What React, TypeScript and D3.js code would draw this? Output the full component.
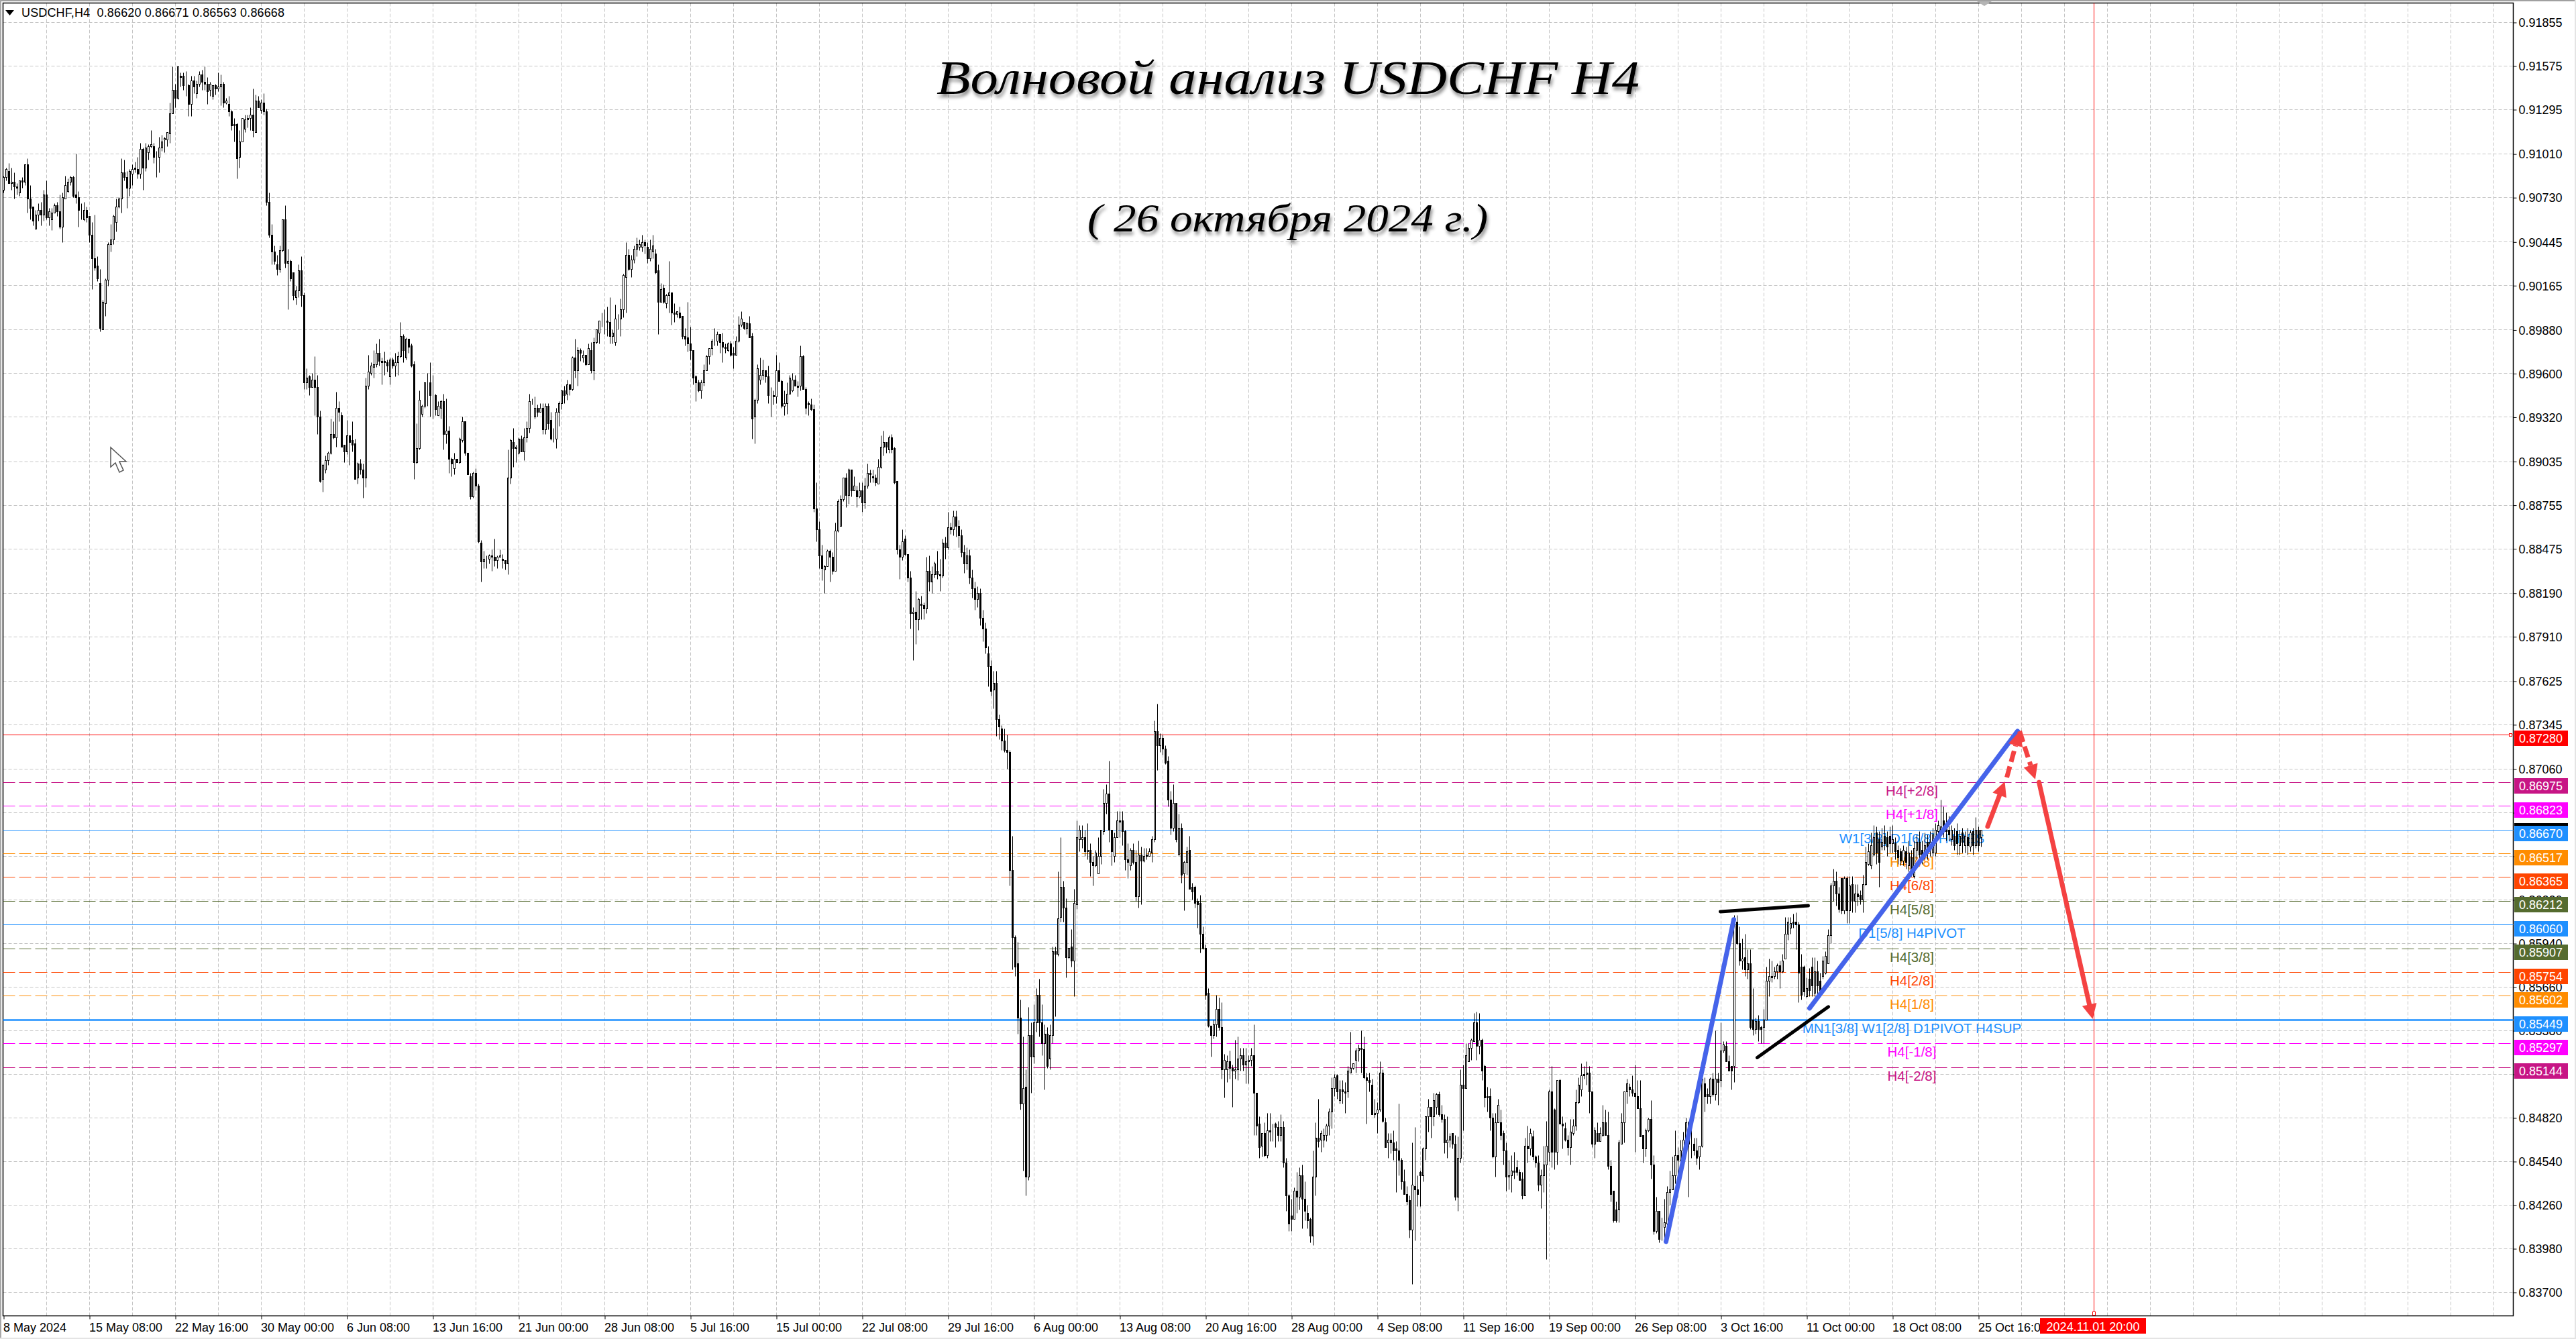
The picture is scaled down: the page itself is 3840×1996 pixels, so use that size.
import * as React from "react";
import * as d3 from "d3";

// one row per H4 bar: open, high, low, close, in pips (price x 10000)
const barRows: number[][] = [
  [9078,9087,9076,9086],[9086,9092,9084,9091],[9090,9095,9082,9082],[9082,9092,9078,9083],[9083,9089,9072,9080],[9080,9082,9075,9079],[9076,9084,9074,9084],[9084,9086,9079,9083],
  [9083,9094,9081,9094],[9094,9098,9063,9072],[9072,9081,9059,9066],[9067,9067,9055,9058],[9053,9065,9053,9062],[9062,9069,9058,9065],[9065,9070,9055,9062],[9062,9078,9058,9075],
  [9075,9084,9059,9060],[9060,9066,9055,9064],[9059,9066,9052,9063],[9063,9069,9063,9068],[9068,9070,9061,9064],[9064,9075,9053,9054],[9054,9076,9044,9073],[9072,9087,9072,9081],
  [9077,9085,9076,9083],[9083,9087,9081,9086],[9086,9087,9073,9074],[9075,9101,9069,9073],[9073,9077,9054,9065],[9064,9069,9059,9064],[9059,9070,9058,9065],[9065,9067,9057,9060],
  [9061,9061,9044,9049],[9049,9057,9014,9034],[9034,9062,9026,9028],[9029,9035,9019,9021],[9018,9027,8987,8989],[8988,9007,8988,9006],[9005,9021,8997,9020],[9020,9044,9016,9043],
  [9043,9056,9038,9046],[9046,9062,9043,9061],[9057,9072,9051,9067],[9067,9073,9066,9072],[9072,9098,9063,9089],[9089,9097,9084,9086],[9086,9090,9066,9079],[9079,9091,9074,9090],
  [9088,9094,9081,9091],[9092,9096,9089,9091],[9091,9099,9085,9088],[9088,9108,9085,9104],[9104,9105,9078,9092],[9092,9108,9090,9105],[9102,9107,9097,9106],[9106,9116,9105,9107],
  [9106,9108,9095,9099],[9099,9103,9086,9099],[9099,9112,9089,9105],[9105,9113,9103,9109],[9110,9112,9102,9111],[9110,9115,9106,9115],[9114,9134,9108,9127],[9127,9157,9127,9142],
  [9142,9146,9131,9137],[9137,9157,9136,9157],[9151,9153,9144,9150],[9151,9153,9142,9145],[9145,9154,9138,9145],[9145,9146,9125,9133],[9133,9151,9125,9148],[9148,9151,9140,9144],
  [9140,9148,9137,9146],[9146,9154,9144,9152],[9152,9155,9142,9147],[9147,9157,9142,9146],[9146,9150,9133,9141],[9142,9147,9138,9146],[9138,9145,9136,9145],[9145,9146,9139,9143],
  [9143,9153,9141,9144],[9144,9152,9132,9146],[9146,9147,9131,9134],[9134,9137,9133,9135],[9133,9138,9125,9128],[9128,9129,9116,9119],[9120,9124,9109,9119],[9120,9121,9085,9098],
  [9099,9116,9092,9109],[9109,9124,9109,9124],[9117,9126,9115,9123],[9123,9126,9118,9124],[9124,9131,9116,9126],[9126,9143,9112,9116],[9115,9139,9115,9135],[9135,9138,9131,9131],
  [9129,9136,9127,9134],[9134,9140,9126,9128],[9128,9130,9068,9070],[9070,9076,9047,9049],[9049,9056,9030,9038],[9038,9042,9030,9032],[9030,9036,9023,9027],[9027,9042,9025,9039],
  [9039,9059,9038,9059],[9059,9068,9028,9031],[9031,9040,9001,9032],[9032,9033,9019,9021],[9025,9025,9007,9010],[9009,9016,9004,9013],[9013,9030,9009,9026],[9026,9035,9003,9010],
  [9010,9012,8950,8954],[8954,8963,8950,8957],[8958,8959,8946,8951],[8951,8960,8951,8956],[8956,8971,8933,8951],[8951,8959,8921,8932],[8932,8936,8890,8891],[8892,8902,8884,8901],
  [8898,8907,8896,8904],[8904,8910,8901,8909],[8909,8931,8908,8921],[8921,8929,8918,8919],[8919,8948,8913,8938],[8938,8942,8929,8935],[8933,8935,8913,8913],[8914,8914,8903,8910],
  [8910,8930,8908,8920],[8920,8920,8901,8916],[8917,8929,8910,8914],[8915,8918,8892,8892],[8893,8903,8889,8902],[8902,8905,8895,8898],[8898,8902,8880,8893],[8893,8957,8887,8952],
  [8952,8972,8950,8961],[8960,8967,8959,8965],[8964,8975,8957,8966],[8966,8979,8964,8973],[8973,8982,8965,8968],[8968,8970,8953,8967],[8968,8974,8959,8967],[8967,8969,8961,8965],
  [8958,8970,8953,8969],[8969,8970,8963,8965],[8965,8973,8958,8967],[8967,8974,8959,8971],[8971,8993,8970,8984],[8984,8985,8967,8975],[8970,8983,8969,8982],[8982,8982,8973,8977],
  [8978,8979,8964,8965],[8966,8968,8892,8903],[8903,8928,8902,8912],[8912,8949,8911,8943],[8934,8940,8932,8939],[8939,8954,8938,8954],[8954,8960,8939,8954],[8954,8967,8932,8946],
  [8946,8959,8931,8946],[8946,8947,8933,8937],[8933,8942,8933,8939],[8938,8943,8931,8942],[8942,8947,8911,8921],[8921,8944,8915,8923],[8923,8926,8896,8905],[8905,8906,8894,8902],
  [8899,8909,8895,8905],[8905,8905,8903,8903],[8903,8919,8902,8918],[8917,8932,8916,8929],[8929,8929,8907,8909],[8909,8909,8895,8895],[8894,8896,8879,8881],[8881,8897,8880,8896],
  [8896,8899,8885,8888],[8888,8889,8851,8852],[8851,8853,8826,8839],[8839,8846,8835,8841],[8841,8843,8835,8841],[8841,8844,8838,8843],[8843,8847,8833,8842],[8842,8854,8836,8840],
  [8840,8843,8835,8842],[8842,8847,8842,8843],[8841,8844,8835,8840],[8840,8840,8834,8838],[8838,8911,8831,8893],[8893,8918,8889,8917],[8916,8925,8900,8912],[8912,8914,8903,8913],
  [8909,8919,8908,8918],[8918,8920,8910,8910],[8910,8925,8904,8919],[8919,8929,8916,8925],[8925,8947,8922,8942],[8942,8944,8940,8942],[8932,8945,8931,8938],[8938,8940,8932,8935],
  [8935,8941,8935,8938],[8938,8941,8921,8924],[8924,8941,8921,8939],[8939,8941,8924,8928],[8930,8935,8917,8918],[8918,8925,8916,8918],[8918,8938,8912,8935],[8935,8942,8926,8941],
  [8941,8949,8937,8949],[8949,8952,8941,8946],[8947,8956,8943,8953],[8953,8953,8946,8950],[8950,8971,8949,8970],[8970,8982,8957,8962],[8962,8977,8952,8975],[8975,8976,8968,8973],
  [8970,8975,8967,8972],[8972,8972,8965,8966],[8966,8979,8966,8976],[8975,8980,8960,8962],[8962,8983,8956,8980],[8980,8988,8979,8988],[8986,8994,8979,8994],[8994,8999,8990,8994],
  [8994,9001,8985,8994],[8994,9003,8984,8993],[8993,9009,8979,8984],[8984,8988,8979,8986],[8980,9004,8978,8995],[8995,8998,8988,8995],[8995,9008,8984,9001],[9001,9024,8996,9023],
  [9022,9044,8999,9036],[9036,9040,9026,9027],[9027,9036,9022,9033],[9033,9042,9031,9040],[9040,9047,9035,9043],[9041,9046,9039,9043],[9041,9049,9038,9044],[9044,9046,9037,9042],
  [9041,9044,9031,9034],[9034,9046,9032,9040],[9038,9049,9034,9042],[9037,9040,9024,9025],[9026,9030,8985,9006],[9006,9018,9006,9014],[9015,9017,9005,9006],[9005,9011,9002,9010],
  [9010,9032,8999,9012],[9012,9012,8991,8999],[8999,9005,8993,8998],[8998,9000,8996,9000],[8999,9003,8995,8996],[8997,8997,8982,8984],[8984,8989,8978,8982],[8983,9006,8974,8979],
  [8979,8990,8969,8975],[8975,8975,8953,8957],[8958,8959,8942,8954],[8954,8956,8948,8949],[8949,8956,8944,8954],[8954,8966,8952,8962],[8962,8972,8962,8971],[8971,8976,8966,8976],
  [8976,8982,8972,8981],[8981,8989,8978,8981],[8981,8987,8978,8985],[8985,8985,8973,8980],[8980,8986,8967,8977],[8977,8979,8973,8976],[8975,8980,8974,8979],[8979,8981,8971,8972],
  [8973,8977,8963,8972],[8972,8984,8972,8981],[8981,8997,8980,8991],[8991,9000,8990,8995],[8993,8993,8988,8989],[8989,8993,8985,8992],[8992,8997,8983,8983],[8984,8986,8918,8931],
  [8932,8944,8915,8943],[8943,8966,8941,8963],[8956,8970,8953,8959],[8959,8969,8956,8962],[8962,8962,8954,8958],[8958,8965,8941,8946],[8946,8951,8932,8946],[8946,8949,8940,8945],
  [8945,8972,8941,8962],[8962,8967,8955,8955],[8955,8956,8938,8939],[8939,8949,8933,8941],[8941,8954,8934,8947],[8947,8959,8947,8957],[8949,8960,8948,8956],[8956,8959,8952,8952],
  [8952,8955,8945,8951],[8952,8978,8949,8971],[8971,8972,8950,8950],[8950,8951,8934,8938],[8941,8942,8933,8940],[8940,8944,8936,8937],[8937,8940,8871,8873],[8873,8890,8852,8860],
  [8860,8865,8835,8843],[8843,8850,8827,8835],[8834,8837,8819,8836],[8836,8847,8836,8846],[8846,8847,8826,8842],[8842,8845,8831,8833],[8833,8864,8833,8859],[8859,8879,8858,8878],
  [8862,8882,8862,8879],[8879,8893,8878,8893],[8893,8896,8874,8882],[8882,8899,8876,8898],[8898,8898,8881,8885],[8885,8894,8885,8888],[8885,8888,8874,8881],[8881,8890,8880,8885],
  [8885,8890,8871,8877],[8877,8893,8873,8888],[8888,8902,8886,8896],[8896,8898,8890,8895],[8894,8898,8890,8893],[8893,8895,8888,8890],[8889,8905,8889,8900],[8900,8920,8899,8913],
  [8913,8923,8907,8916],[8916,8916,8909,8913],[8911,8920,8909,8919],[8919,8921,8909,8911],[8912,8913,8889,8890],[8891,8891,8844,8847],[8847,8850,8828,8842],[8842,8860,8840,8852],
  [8854,8856,8843,8844],[8844,8844,8826,8829],[8829,8833,8796,8806],[8806,8810,8776,8807],[8807,8820,8786,8802],[8802,8816,8795,8815],[8812,8817,8802,8811],[8811,8813,8802,8809],
  [8809,8842,8806,8833],[8833,8843,8820,8826],[8826,8836,8819,8831],[8831,8839,8829,8838],[8833,8846,8828,8831],[8831,8841,8820,8830],[8830,8854,8829,8851],[8851,8855,8841,8848],
  [8848,8871,8847,8861],[8861,8864,8857,8860],[8860,8872,8856,8868],[8868,8872,8855,8862],[8862,8866,8848,8856],[8856,8860,8842,8845],[8845,8850,8832,8838],[8838,8848,8834,8843],
  [8843,8847,8825,8829],[8829,8834,8816,8822],[8822,8826,8808,8815],[8815,8823,8810,8819],[8819,8822,8798,8803],[8803,8808,8788,8796],[8796,8800,8780,8784],[8780,8785,8759,8772],
  [8772,8776,8753,8756],[8757,8769,8745,8761],[8761,8769,8727,8738],[8738,8741,8725,8733],[8732,8734,8718,8724],[8724,8732,8717,8718],[8718,8728,8706,8717],[8717,8718,8631,8641],
  [8641,8663,8577,8598],[8598,8599,8573,8579],[8581,8595,8536,8546],[8546,8558,8487,8491],[8491,8534,8448,8501],[8502,8513,8432,8444],[8444,8553,8442,8535],[8535,8543,8498,8521],
  [8521,8555,8517,8543],[8543,8565,8537,8561],[8561,8571,8534,8543],[8543,8555,8522,8530],[8530,8542,8500,8536],[8536,8540,8514,8515],[8520,8542,8513,8535],[8535,8592,8530,8589],
  [8589,8592,8547,8587],[8587,8640,8586,8610],[8611,8662,8608,8630],[8630,8634,8608,8617],[8617,8623,8572,8585],[8585,8591,8584,8591],[8592,8603,8579,8583],[8583,8629,8560,8620],
  [8619,8673,8616,8662],[8661,8670,8653,8667],[8661,8670,8655,8662],[8662,8667,8650,8653],[8653,8671,8648,8654],[8654,8658,8637,8646],[8646,8650,8631,8644],[8644,8654,8643,8652],
  [8639,8662,8639,8650],[8650,8667,8645,8667],[8666,8693,8664,8684],[8684,8696,8677,8690],[8690,8711,8659,8667],[8667,8667,8644,8653],[8650,8665,8646,8662],[8662,8679,8662,8673],
  [8673,8679,8662,8672],[8673,8679,8657,8666],[8666,8667,8641,8648],[8648,8658,8636,8646],[8644,8655,8641,8654],[8654,8658,8645,8646],[8646,8654,8621,8624],[8624,8660,8617,8651],
  [8651,8656,8619,8647],[8647,8655,8646,8650],[8651,8655,8648,8650],[8650,8655,8650,8653],[8652,8663,8646,8661],[8661,8737,8659,8730],[8730,8748,8705,8721],[8721,8729,8717,8726],
  [8726,8728,8715,8719],[8719,8721,8709,8710],[8711,8714,8682,8686],[8686,8692,8664,8668],[8668,8696,8666,8684],[8684,8684,8659,8661],[8651,8677,8651,8668],[8668,8671,8633,8638],
  [8639,8647,8615,8646],[8646,8656,8638,8653],[8654,8663,8629,8629],[8630,8633,8622,8627],[8630,8631,8617,8620],[8621,8623,8604,8619],[8620,8625,8588,8600],[8600,8605,8590,8591],
  [8591,8593,8558,8561],[8562,8565,8540,8541],[8541,8541,8521,8535],[8535,8545,8533,8542],[8542,8561,8534,8552],[8552,8559,8538,8540],[8540,8556,8507,8513],[8513,8523,8495,8519],
  [8513,8522,8505,8518],[8518,8525,8507,8514],[8514,8516,8489,8512],[8512,8532,8507,8513],[8513,8534,8506,8520],[8520,8527,8512,8522],[8522,8527,8512,8516],[8516,8527,8504,8518],
  [8518,8522,8504,8519],[8519,8527,8515,8522],[8522,8542,8471,8498],[8498,8498,8471,8477],[8478,8483,8456,8463],[8464,8472,8457,8472],[8472,8479,8457,8458],[8458,8485,8456,8474],
  [8474,8485,8467,8473],[8473,8478,8467,8473],[8478,8479,8463,8476],[8476,8480,8467,8471],[8471,8484,8467,8476],[8476,8480,8450,8453],[8453,8456,8422,8432],[8432,8433,8409,8414],
  [8419,8430,8409,8417],[8417,8437,8417,8435],[8435,8447,8421,8431],[8431,8450,8423,8445],[8445,8452,8411,8430],[8430,8441,8416,8422],[8421,8426,8411,8416],[8417,8418,8402,8406],
  [8406,8461,8400,8444],[8444,8479,8432,8469],[8469,8494,8463,8467],[8468,8474,8460,8472],[8468,8475,8463,8471],[8471,8478,8467,8477],[8477,8488,8471,8486],[8486,8508,8475,8501],
  [8501,8510,8496,8508],[8509,8510,8494,8499],[8493,8506,8491,8500],[8500,8506,8491,8499],[8499,8505,8485,8498],[8499,8515,8495,8512],[8511,8537,8511,8514],[8514,8517,8513,8517],
  [8519,8527,8511,8525],[8525,8529,8518,8527],[8527,8538,8511,8526],[8526,8534,8507,8508],[8508,8511,8478,8506],[8506,8511,8499,8505],[8503,8507,8484,8484],[8484,8494,8482,8485],
  [8485,8492,8472,8487],[8487,8518,8486,8511],[8511,8513,8479,8480],[8479,8482,8463,8463],[8466,8472,8456,8468],[8468,8472,8459,8466],[8466,8474,8455,8461],[8462,8467,8434,8461],
  [8461,8491,8445,8455],[8455,8456,8436,8441],[8441,8449,8433,8433],[8433,8438,8426,8428],[8429,8432,8405,8410],[8410,8466,8375,8439],[8438,8476,8403,8436],[8436,8445,8425,8433],
  [8447,8448,8425,8445],[8445,8463,8441,8462],[8462,8483,8455,8483],[8483,8494,8473,8489],[8489,8489,8469,8483],[8483,8498,8477,8493],[8489,8498,8484,8497],[8497,8499,8483,8484],
  [8484,8490,8479,8481],[8481,8484,8459,8466],[8466,8483,8456,8468],[8468,8472,8463,8470],[8472,8472,8462,8465],[8465,8471,8429,8431],[8431,8470,8422,8456],[8456,8513,8453,8503],
  [8503,8516,8474,8501],[8501,8530,8501,8522],[8518,8530,8518,8527],[8527,8533,8519,8532],[8531,8549,8531,8543],[8543,8550,8519,8528],[8528,8549,8523,8532],[8532,8533,8506,8512],
  [8515,8516,8489,8495],[8496,8502,8486,8495],[8496,8501,8474,8482],[8482,8485,8456,8457],[8457,8485,8444,8479],[8479,8494,8479,8490],[8479,8487,8468,8471],[8472,8474,8452,8461],
  [8461,8466,8435,8444],[8444,8455,8436,8445],[8445,8458,8434,8448],[8448,8460,8443,8447],[8450,8455,8445,8447],[8447,8449,8442,8442],[8443,8447,8430,8432],[8432,8469,8432,8464],
  [8464,8477,8453,8462],[8462,8475,8458,8472],[8470,8474,8455,8457],[8457,8458,8450,8453],[8453,8458,8435,8439],[8439,8449,8424,8445],[8445,8464,8434,8452],[8452,8480,8391,8464],
  [8460,8500,8454,8499],[8499,8515,8450,8460],[8487,8488,8449,8460],[8460,8506,8452,8506],[8506,8507,8478,8478],[8478,8483,8462,8477],[8475,8479,8467,8468],[8468,8471,8458,8463],
  [8463,8481,8452,8473],[8472,8481,8471,8477],[8477,8500,8474,8492],[8492,8508,8491,8503],[8500,8517,8496,8509],[8510,8515,8507,8509],[8510,8518,8503,8511],[8511,8515,8485,8499],
  [8499,8499,8463,8465],[8465,8476,8456,8474],[8472,8479,8467,8467],[8467,8476,8467,8472],[8471,8490,8470,8479],[8479,8487,8471,8471],[8471,8486,8449,8451],[8451,8455,8428,8433],
  [8435,8435,8415,8416],[8423,8428,8415,8416],[8423,8468,8415,8466],[8465,8485,8465,8479],[8479,8499,8466,8499],[8499,8507,8491,8504],[8502,8504,8496,8500],[8500,8509,8496,8498],
  [8498,8516,8460,8496],[8496,8506,8488,8488],[8488,8506,8470,8470],[8471,8471,8453,8462],[8462,8475,8457,8474],[8474,8482,8473,8481],[8481,8493,8443,8452],[8452,8458,8407,8409],
  [8409,8431,8408,8422],[8422,8422,8402,8404],[8412,8418,8403,8412],[8412,8430,8404,8415],[8414,8438,8413,8434],[8434,8448,8426,8436],[8436,8457,8436,8445],[8445,8474,8440,8458],
  [8458,8463,8438,8455],[8455,8468,8451,8461],[8461,8473,8459,8468],[8468,8482,8468,8479],[8479,8480,8431,8465],[8465,8483,8456,8465],[8465,8469,8458,8461],[8461,8469,8452,8456],
  [8457,8464,8449,8464],[8464,8507,8463,8507],[8504,8508,8486,8496],[8497,8501,8491,8496],[8496,8508,8491,8507],[8507,8511,8496,8497],[8497,8538,8493,8507],[8507,8511,8490,8505],
  [8506,8543,8502,8525],[8525,8531,8524,8529],[8528,8531,8518,8518],[8518,8522,8512,8512],[8515,8515,8500,8512],[8515,8612,8505,8608],[8608,8612,8593,8594],[8594,8605,8580,8583],
  [8583,8597,8577,8584],[8585,8600,8573,8577],[8577,8590,8571,8581],[8581,8590,8539,8540],[8545,8565,8535,8539],[8539,8546,8536,8544],[8544,8548,8531,8539],[8540,8541,8530,8539],
  [8540,8552,8530,8545],[8545,8579,8545,8570],[8570,8584,8560,8573],[8573,8583,8569,8572],[8573,8579,8571,8576],[8576,8581,8571,8580],[8580,8583,8565,8576],[8576,8587,8575,8583],
  [8584,8611,8584,8600],[8600,8611,8596,8608],[8604,8611,8600,8607],[8608,8613,8604,8607],[8608,8614,8590,8606],[8606,8608,8556,8575],[8579,8587,8558,8561],[8579,8580,8560,8563],
  [8560,8572,8559,8565],[8571,8578,8560,8564],[8579,8585,8560,8567],[8562,8585,8560,8576],[8576,8583,8561,8567],[8570,8575,8560,8563],[8573,8586,8571,8583],[8575,8589,8574,8586],
  [8581,8603,8581,8599],[8599,8633,8594,8631],[8631,8642,8621,8634],[8634,8640,8618,8626],[8626,8630,8614,8616],[8636,8636,8613,8615],[8615,8637,8613,8636],[8636,8637,8607,8615],
  [8615,8637,8607,8631],[8632,8637,8614,8621],[8621,8632,8614,8626],[8626,8632,8618,8624],[8625,8628,8619,8622],[8622,8638,8614,8632],[8632,8656,8631,8646],[8645,8658,8644,8653],
  [8644,8665,8642,8657],[8651,8670,8650,8662],[8665,8669,8645,8652],[8661,8666,8630,8646],[8656,8668,8654,8659],[8663,8670,8654,8658],[8662,8666,8650,8656],[8663,8669,8652,8658],
  [8658,8670,8652,8661],[8658,8662,8648,8653],[8654,8657,8645,8649],[8653,8655,8644,8647],[8647,8657,8644,8654],[8653,8656,8642,8646],[8644,8660,8640,8652],[8649,8654,8637,8638],
  [8637,8660,8636,8655],[8654,8664,8648,8659],[8659,8666,8648,8651],[8654,8660,8645,8649],[8651,8665,8648,8657],[8659,8664,8648,8652],[8654,8666,8650,8659],[8652,8668,8650,8664],
  [8652,8671,8650,8667],[8666,8673,8664,8670],[8665,8686,8663,8669],[8673,8682,8662,8666],[8670,8678,8660,8666],[8667,8676,8660,8664],[8661,8670,8657,8667],[8663,8668,8654,8657],
  [8666,8671,8651,8658],[8657,8667,8651,8663],[8665,8668,8652,8659],[8657,8666,8652,8663],[8662,8668,8651,8657],[8656,8667,8653,8665],[8666,8668,8651,8657],[8657,8675,8655,8667],
  [8667,8669,8653,8657],[8662,8667,8656,8667],
];

const priceTicks = [
  0.91855, 0.91575, 0.91295, 0.9101, 0.9073, 0.90445, 0.90165, 0.8988, 0.896, 0.8932,
  0.89035, 0.88755, 0.88475, 0.8819, 0.8791, 0.87625, 0.87345, 0.8706, 0.8678, 0.865,
  0.8622, 0.8594, 0.8566, 0.8538, 0.851, 0.8482, 0.8454, 0.8426, 0.8398, 0.837,
];

const dateLabels = [
  "8 May 2024", "15 May 08:00", "22 May 16:00", "30 May 00:00", "6 Jun 08:00", "13 Jun 16:00",
  "21 Jun 00:00", "28 Jun 08:00", "5 Jul 16:00", "15 Jul 00:00", "22 Jul 08:00", "29 Jul 16:00",
  "6 Aug 00:00", "13 Aug 08:00", "20 Aug 16:00", "28 Aug 00:00", "4 Sep 08:00", "11 Sep 16:00",
  "19 Sep 00:00", "26 Sep 08:00", "3 Oct 16:00", "11 Oct 00:00", "18 Oct 08:00", "25 Oct 16:00",
];

const levelPrices = [0.86975, 0.86823, 0.8667, 0.86517, 0.86365, 0.86212, 0.8606, 0.85907, 0.85754, 0.85602, 0.85449, 0.85297, 0.85144];
const levelNames = [
  "H4[+2/8]", "H4[+1/8]", "W1[3/8] D1[6/8] H4RES", "H4[7/8]", "H4[6/8]", "H4[5/8]", "D1[5/8] H4PIVOT",
  "H4[3/8]", "H4[2/8]", "H4[1/8]", "MN1[3/8] W1[2/8] D1PIVOT H4SUP", "H4[-1/8]", "H4[-2/8]",
];
const levelColors = ["#c71585", "#ff00ff", "#1e90ff", "#ff8c00", "#ff4500", "#556b2f", "#1e90ff", "#556b2f", "#ff4500", "#ff8c00", "#1e90ff", "#ff00ff", "#c71585"];

const forecastPrice = 0.8728;
const forecastBar = 779;
const lastPrice = 0.86668;

// wave lines and arrows as [bar, price, bar, price]
const blueLines = [
  [619.5, 0.84026, 644.75, 0.86094],
  [673, 0.85525, 750.5, 0.87304],
];
const blackLines = [
  [639.75, 0.86145, 672.5, 0.86184],
  [653.5, 0.85208, 680, 0.85534],
];
const solidArrows = [
  [739.35, 0.86692, 745.75, 0.86981],
  [758.5, 0.86976, 778.5, 0.85456],
];
const dashedArrows = [
  [746.5, 0.87007, 751.25, 0.87304],
  [751.25, 0.87304, 757.1, 0.86994],
];

const W = 3840;
const H = 1996;
const plot = { left: 4.5, top: 4.5, right: 3746.5, bottom: 1961.5 };
const sansFont = "'Liberation Sans', Arial, sans-serif";

const App: React.FunctionComponent = () => {
  const svgRef = React.useRef<SVGSVGElement>(null);

  React.useEffect(() => {
    const svg = d3.select(svgRef.current);
    svg.selectAll("*").remove();

    const x = d3.scaleLinear().domain([0, 1]).range([5.5, 9.5]);
    const y = d3.scaleLinear().domain([0.837, 0.91855]).range([1926.5, 33.5]);
    const crisp = (v: number) => Math.floor(y(v)) + 0.5;

    const defs = svg.append("defs");
    defs
      .append("filter")
      .attr("id", "title-shadow")
      .attr("x", "-5%")
      .attr("y", "-30%")
      .attr("width", "110%")
      .attr("height", "170%")
      .append("feDropShadow")
      .attr("dx", 2)
      .attr("dy", 5)
      .attr("stdDeviation", 2.5)
      .attr("flood-color", "#000")
      .attr("flood-opacity", 0.45);

    svg.append("rect").attr("width", W).attr("height", H).attr("fill", "#fff");
    // window edges
    svg.append("rect").attr("width", W).attr("height", 2).attr("fill", "#a0a0a0");
    svg.append("rect").attr("width", 2).attr("height", H).attr("fill", "#a8a8a8");
    svg.append("rect").attr("x", W - 2).attr("width", 2).attr("height", H).attr("fill", "#e4e4e4");
    svg.append("rect").attr("y", H - 2).attr("width", W).attr("height", 2).attr("fill", "#e4e4e4");

    // grid
    const grid = svg.append("g").attr("stroke", "#c4c4c4").attr("stroke-width", 1).attr("stroke-dasharray", "5 3").attr("fill", "none");
    grid
      .selectAll("line.h")
      .data(priceTicks)
      .enter()
      .append("line")
      .attr("x1", plot.left)
      .attr("x2", plot.right)
      .attr("y1", d => crisp(d))
      .attr("y2", d => crisp(d));
    grid
      .selectAll("line.v")
      .data(d3.range(16, 940, 16))
      .enter()
      .append("line")
      .attr("x1", d => x(d))
      .attr("x2", d => x(d))
      .attr("y1", plot.top)
      .attr("y2", plot.bottom);

    // axes
    const yAxis = d3
      .axisRight(y)
      .tickValues(priceTicks)
      .tickFormat(d3.format(".5f") as any)
      .tickSize(5)
      .tickPadding(3);
    const yAxisG = svg.append("g").attr("transform", `translate(${plot.right},0)`).call(yAxis as any);
    yAxisG.select(".domain").remove();
    yAxisG.selectAll("line").attr("stroke", "#000").attr("y1", 0).attr("y2", 0);
    yAxisG
      .selectAll("text")
      .attr("font-family", sansFont)
      .attr("font-size", 18)
      .attr("fill", "#000")
      .attr("dy", "0.35em");

    const xAxis = d3
      .axisBottom(x)
      .tickValues(dateLabels.map((_, i) => i * 32))
      .tickFormat(((_: number, i: number) => dateLabels[i]) as any)
      .tickSize(5);
    const xAxisG = svg.append("g").attr("transform", `translate(0,${plot.bottom})`).call(xAxis as any);
    xAxisG.select(".domain").remove();
    xAxisG.selectAll("line").attr("stroke", "#000");
    xAxisG
      .selectAll("text")
      .attr("font-family", sansFont)
      .attr("font-size", 18)
      .attr("fill", "#000")
      .attr("text-anchor", "start")
      .attr("x", -1)
      .attr("y", 23)
      .attr("dy", 0);

    svg
      .append("rect")
      .attr("x", plot.left)
      .attr("y", plot.top)
      .attr("width", plot.right - plot.left)
      .attr("height", plot.bottom - plot.top)
      .attr("fill", "none")
      .attr("stroke", "#000")
      .attr("stroke-width", 1.5);

    // murrey levels
    levelPrices.forEach((price, i) => {
      const name = levelNames[i];
      const solid = levelColors[i] === "#1e90ff";
      svg
        .append("line")
        .attr("x1", plot.left)
        .attr("x2", solid ? plot.right : 3743)
        .attr("y1", crisp(price))
        .attr("y2", crisp(price))
        .attr("stroke", levelColors[i])
        .attr("stroke-width", price === 0.85449 ? 2.5 : 1)
        .attr("stroke-dasharray", solid ? null : "18 6");
      svg
        .append("text")
        .attr("x", 2850)
        .attr("y", y(price) + 19.5)
        .attr("text-anchor", "middle")
        .attr("font-family", sansFont)
        .attr("font-size", 20.5)
        .attr("fill", levelColors[i])
        .text(name);
    });

    svg
      .append("line")
      .attr("x1", plot.left)
      .attr("x2", plot.right)
      .attr("y1", crisp(forecastPrice))
      .attr("y2", crisp(forecastPrice))
      .attr("stroke", "#ff0000");

    // candles
    const candles = svg
      .append("g")
      .selectAll("g")
      .data(barRows)
      .enter()
      .append("g");
    candles
      .append("line")
      .attr("x1", (_, i) => x(i))
      .attr("x2", (_, i) => x(i))
      .attr("y1", d => crisp(d[1] / 10000))
      .attr("y2", d => crisp(d[2] / 10000))
      .attr("stroke", "#000");
    candles
      .append("rect")
      .attr("x", (_, i) => x(i) - 1)
      .attr("width", 2)
      .attr("y", d => crisp(Math.max(d[0], d[3]) / 10000))
      .attr("height", d => crisp(Math.min(d[0], d[3]) / 10000) - crisp(Math.max(d[0], d[3]) / 10000))
      .attr("fill", d => (d[3] > d[0] ? "#fff" : "#000"))
      .attr("stroke", "#000");

    // forecast time line
    svg
      .append("line")
      .attr("x1", x(forecastBar))
      .attr("x2", x(forecastBar))
      .attr("y1", plot.top)
      .attr("y2", plot.bottom)
      .attr("stroke", "#ff0000");
    svg
      .append("rect")
      .attr("x", x(forecastBar) - 2)
      .attr("y", plot.bottom - 6)
      .attr("width", 4)
      .attr("height", 5)
      .attr("fill", "#fff")
      .attr("stroke", "#ff0000");
    svg
      .append("rect")
      .attr("x", plot.right - 6)
      .attr("y", crisp(forecastPrice) - 2)
      .attr("width", 4)
      .attr("height", 4)
      .attr("fill", "#fff")
      .attr("stroke", "#ff0000");

    // wave lines
    const drawLines = (rows: number[][], color: string, width: number) =>
      svg
        .append("g")
        .selectAll("line")
        .data(rows)
        .enter()
        .append("line")
        .attr("x1", d => x(d[0]))
        .attr("y1", d => y(d[1]))
        .attr("x2", d => x(d[2]))
        .attr("y2", d => y(d[3]))
        .attr("stroke", color)
        .attr("stroke-width", width)
        .attr("stroke-linecap", "round");
    drawLines(blackLines, "#000", 5);
    drawLines(blueLines, "#4563ea", 7);

    const arrowColor = "#f44242";
    const drawArrows = (rows: number[][], dash: string | null) => {
      const g = svg.append("g");
      rows.forEach(d => {
        const x1 = x(d[0]);
        const y1 = y(d[1]);
        const x2 = x(d[2]);
        const y2 = y(d[3]);
        const len = Math.hypot(x2 - x1, y2 - y1);
        const ux = (x2 - x1) / len;
        const uy = (y2 - y1) / len;
        const headLen = 22;
        const headW = 11;
        g.append("line")
          .attr("x1", x1)
          .attr("y1", y1)
          .attr("x2", x2 - ux * headLen)
          .attr("y2", y2 - uy * headLen)
          .attr("stroke", arrowColor)
          .attr("stroke-width", 7)
          .attr("stroke-linecap", dash ? "butt" : "round")
          .attr("stroke-dasharray", dash);
        const bx = x2 - ux * headLen;
        const by = y2 - uy * headLen;
        g.append("path")
          .attr("d", d3.line()([[x2, y2], [bx - uy * headW, by + ux * headW], [bx + uy * headW, by - ux * headW]]) + "Z")
          .attr("fill", arrowColor);
      });
    };
    drawArrows(solidArrows, null);
    drawArrows(dashedArrows, "17 7");

    // price labels on the right scale
    const priceBox = (price: number, color: string, label: string) => {
      const top = Math.round(y(price)) - 6;
      svg.append("rect").attr("x", 3748).attr("y", top).attr("width", 80).attr("height", 23).attr("fill", color);
      svg
        .append("text")
        .attr("x", 3755)
        .attr("y", top + 18)
        .attr("font-family", sansFont)
        .attr("font-size", 18)
        .attr("fill", "#fff")
        .text(label);
    };
    svg
      .append("rect")
      .attr("x", 3748)
      .attr("y", Math.round(y(lastPrice)) - 11)
      .attr("width", 80)
      .attr("height", 12)
      .attr("fill", "#000");
    priceBox(forecastPrice, "#ff0000", forecastPrice.toFixed(5));
    levelPrices.forEach((price, i) => priceBox(price, levelColors[i], price.toFixed(5)));

    // forecast time label
    svg.append("rect").attr("x", 3041).attr("y", 1965).attr("width", 158).attr("height", 23).attr("fill", "#ff0000");
    svg
      .append("text")
      .attr("x", 3120)
      .attr("y", 1984)
      .attr("text-anchor", "middle")
      .attr("font-family", sansFont)
      .attr("font-size", 18)
      .attr("fill", "#fff")
      .text("2024.11.01 20:00");

    // header
    svg.append("path").attr("d", "M8,15L21,15L14.5,23Z").attr("fill", "#000");
    svg
      .append("text")
      .attr("x", 32)
      .attr("y", 25)
      .attr("font-family", sansFont)
      .attr("font-size", 18)
      .attr("fill", "#000")
      .attr("textLength", 392)
      .attr("xml:space", "preserve")
      .text("USDCHF,H4  0.86620 0.86671 0.86563 0.86668");

    // shift marker and mouse pointer left on the screenshot
    svg.append("path").attr("d", "M2947,2L2969,2L2958,9Z").attr("fill", "#b4b4b4");
    svg
      .append("path")
      .attr("d", "M165,667L165,696L172,690L178,704L184,701L178,688L188,688Z")
      .attr("fill", "#fff")
      .attr("stroke", "#555")
      .attr("stroke-width", 1.5);

    const titles = svg
      .append("g")
      .attr("font-family", "'Liberation Serif', serif")
      .attr("font-style", "italic")
      .attr("fill", "#000")
      .attr("filter", "url(#title-shadow)");
    titles
      .append("text")
      .attr("x", 1396)
      .attr("y", 140)
      .attr("font-size", 72)
      .attr("textLength", 1048)
      .attr("lengthAdjust", "spacingAndGlyphs")
      .text("Волновой анализ USDCHF H4");
    titles
      .append("text")
      .attr("x", 1621)
      .attr("y", 345)
      .attr("font-size", 60)
      .attr("textLength", 597)
      .attr("lengthAdjust", "spacingAndGlyphs")
      .text("( 26 октября 2024 г.)");
  }, []);

  return (
    <div style={{ position: "fixed", left: 0, top: 0 }}>
      <svg ref={svgRef} width={W} height={H} style={{ display: "block" }} />
    </div>
  );
};

export default App;
